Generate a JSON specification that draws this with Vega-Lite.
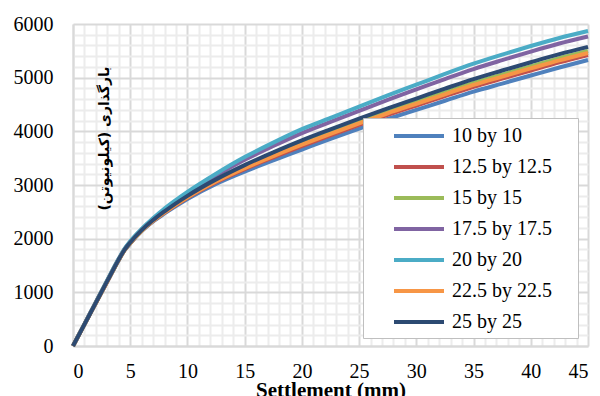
{
  "$schema": "https://vega.github.io/schema/vega-lite/v6.json",
  "width": 515,
  "height": 322,
  "autosize": {"type": "none"},
  "padding": {"left": 73, "top": 24, "right": 12, "bottom": 50},
  "background": "white",
  "config": {"view": {"stroke": null}},
  "datasets": {
    "curves": [
      {"x":0,"load":0,"series":"10 by 10"},{"x":1,"load":400,"series":"10 by 10"},{"x":2,"load":800,"series":"10 by 10"},{"x":3,"load":1200,"series":"10 by 10"},{"x":4,"load":1600,"series":"10 by 10"},{"x":4.5,"load":1780,"series":"10 by 10"},{"x":5,"load":1910,"series":"10 by 10"},{"x":6,"load":2140,"series":"10 by 10"},{"x":7,"load":2320,"series":"10 by 10"},{"x":8,"load":2470,"series":"10 by 10"},{"x":10,"load":2740,"series":"10 by 10"},{"x":12.5,"load":3020,"series":"10 by 10"},{"x":15,"load":3250,"series":"10 by 10"},{"x":17.5,"load":3460,"series":"10 by 10"},{"x":20,"load":3660,"series":"10 by 10"},{"x":22.5,"load":3860,"series":"10 by 10"},{"x":25,"load":4050,"series":"10 by 10"},{"x":27.5,"load":4230,"series":"10 by 10"},{"x":30,"load":4400,"series":"10 by 10"},{"x":32.5,"load":4570,"series":"10 by 10"},{"x":35,"load":4740,"series":"10 by 10"},{"x":37.5,"load":4890,"series":"10 by 10"},{"x":40,"load":5040,"series":"10 by 10"},{"x":42.5,"load":5190,"series":"10 by 10"},{"x":45,"load":5330,"series":"10 by 10"},

      {"x":0,"load":0,"series":"12.5 by 12.5"},{"x":1,"load":402,"series":"12.5 by 12.5"},{"x":2,"load":803,"series":"12.5 by 12.5"},{"x":3,"load":1205,"series":"12.5 by 12.5"},{"x":4,"load":1605,"series":"12.5 by 12.5"},{"x":4.5,"load":1785,"series":"12.5 by 12.5"},{"x":5,"load":1917,"series":"12.5 by 12.5"},{"x":6,"load":2147,"series":"12.5 by 12.5"},{"x":7,"load":2330,"series":"12.5 by 12.5"},{"x":8,"load":2485,"series":"12.5 by 12.5"},{"x":10,"load":2762,"series":"12.5 by 12.5"},{"x":12.5,"load":3052,"series":"12.5 by 12.5"},{"x":15,"load":3296,"series":"12.5 by 12.5"},{"x":17.5,"load":3516,"series":"12.5 by 12.5"},{"x":20,"load":3725,"series":"12.5 by 12.5"},{"x":22.5,"load":3926,"series":"12.5 by 12.5"},{"x":25,"load":4120,"series":"12.5 by 12.5"},{"x":27.5,"load":4305,"series":"12.5 by 12.5"},{"x":30,"load":4480,"series":"12.5 by 12.5"},{"x":32.5,"load":4655,"series":"12.5 by 12.5"},{"x":35,"load":4828,"series":"12.5 by 12.5"},{"x":37.5,"load":4982,"series":"12.5 by 12.5"},{"x":40,"load":5134,"series":"12.5 by 12.5"},{"x":42.5,"load":5284,"series":"12.5 by 12.5"},{"x":45,"load":5422,"series":"12.5 by 12.5"},

      {"x":0,"load":0,"series":"15 by 15"},{"x":1,"load":403,"series":"15 by 15"},{"x":2,"load":806,"series":"15 by 15"},{"x":3,"load":1209,"series":"15 by 15"},{"x":4,"load":1609,"series":"15 by 15"},{"x":4.5,"load":1789,"series":"15 by 15"},{"x":5,"load":1922,"series":"15 by 15"},{"x":6,"load":2152,"series":"15 by 15"},{"x":7,"load":2339,"series":"15 by 15"},{"x":8,"load":2498,"series":"15 by 15"},{"x":10,"load":2780,"series":"15 by 15"},{"x":12.5,"load":3079,"series":"15 by 15"},{"x":15,"load":3334,"series":"15 by 15"},{"x":17.5,"load":3562,"series":"15 by 15"},{"x":20,"load":3778,"series":"15 by 15"},{"x":22.5,"load":3981,"series":"15 by 15"},{"x":25,"load":4177,"series":"15 by 15"},{"x":27.5,"load":4366,"series":"15 by 15"},{"x":30,"load":4546,"series":"15 by 15"},{"x":32.5,"load":4725,"series":"15 by 15"},{"x":35,"load":4901,"series":"15 by 15"},{"x":37.5,"load":5057,"series":"15 by 15"},{"x":40,"load":5211,"series":"15 by 15"},{"x":42.5,"load":5361,"series":"15 by 15"},{"x":45,"load":5497,"series":"15 by 15"},

      {"x":0,"load":0,"series":"17.5 by 17.5"},{"x":1,"load":408,"series":"17.5 by 17.5"},{"x":2,"load":816,"series":"17.5 by 17.5"},{"x":3,"load":1224,"series":"17.5 by 17.5"},{"x":4,"load":1624,"series":"17.5 by 17.5"},{"x":4.5,"load":1804,"series":"17.5 by 17.5"},{"x":5,"load":1942,"series":"17.5 by 17.5"},{"x":6,"load":2172,"series":"17.5 by 17.5"},{"x":7,"load":2369,"series":"17.5 by 17.5"},{"x":8,"load":2543,"series":"17.5 by 17.5"},{"x":10,"load":2845,"series":"17.5 by 17.5"},{"x":12.5,"load":3174,"series":"17.5 by 17.5"},{"x":15,"load":3469,"series":"17.5 by 17.5"},{"x":17.5,"load":3727,"series":"17.5 by 17.5"},{"x":20,"load":3968,"series":"17.5 by 17.5"},{"x":22.5,"load":4176,"series":"17.5 by 17.5"},{"x":25,"load":4382,"series":"17.5 by 17.5"},{"x":27.5,"load":4586,"series":"17.5 by 17.5"},{"x":30,"load":4781,"series":"17.5 by 17.5"},{"x":32.5,"load":4975,"series":"17.5 by 17.5"},{"x":35,"load":5161,"series":"17.5 by 17.5"},{"x":37.5,"load":5327,"series":"17.5 by 17.5"},{"x":40,"load":5486,"series":"17.5 by 17.5"},{"x":42.5,"load":5636,"series":"17.5 by 17.5"},{"x":45,"load":5767,"series":"17.5 by 17.5"},

      {"x":0,"load":0,"series":"20 by 20"},{"x":1,"load":410,"series":"20 by 20"},{"x":2,"load":820,"series":"20 by 20"},{"x":3,"load":1230,"series":"20 by 20"},{"x":4,"load":1630,"series":"20 by 20"},{"x":4.5,"load":1810,"series":"20 by 20"},{"x":5,"load":1950,"series":"20 by 20"},{"x":6,"load":2180,"series":"20 by 20"},{"x":7,"load":2380,"series":"20 by 20"},{"x":8,"load":2560,"series":"20 by 20"},{"x":10,"load":2870,"series":"20 by 20"},{"x":12.5,"load":3210,"series":"20 by 20"},{"x":15,"load":3520,"series":"20 by 20"},{"x":17.5,"load":3790,"series":"20 by 20"},{"x":20,"load":4040,"series":"20 by 20"},{"x":22.5,"load":4250,"series":"20 by 20"},{"x":25,"load":4460,"series":"20 by 20"},{"x":27.5,"load":4670,"series":"20 by 20"},{"x":30,"load":4870,"series":"20 by 20"},{"x":32.5,"load":5070,"series":"20 by 20"},{"x":35,"load":5260,"series":"20 by 20"},{"x":37.5,"load":5430,"series":"20 by 20"},{"x":40,"load":5590,"series":"20 by 20"},{"x":42.5,"load":5740,"series":"20 by 20"},{"x":45,"load":5870,"series":"20 by 20"},

      {"x":0,"load":0,"series":"22.5 by 22.5"},{"x":1,"load":402,"series":"22.5 by 22.5"},{"x":2,"load":805,"series":"22.5 by 22.5"},{"x":3,"load":1207,"series":"22.5 by 22.5"},{"x":4,"load":1607,"series":"22.5 by 22.5"},{"x":4.5,"load":1787,"series":"22.5 by 22.5"},{"x":5,"load":1920,"series":"22.5 by 22.5"},{"x":6,"load":2150,"series":"22.5 by 22.5"},{"x":7,"load":2334,"series":"22.5 by 22.5"},{"x":8,"load":2492,"series":"22.5 by 22.5"},{"x":10,"load":2771,"series":"22.5 by 22.5"},{"x":12.5,"load":3066,"series":"22.5 by 22.5"},{"x":15,"load":3315,"series":"22.5 by 22.5"},{"x":17.5,"load":3539,"series":"22.5 by 22.5"},{"x":20,"load":3751,"series":"22.5 by 22.5"},{"x":22.5,"load":3954,"series":"22.5 by 22.5"},{"x":25,"load":4148,"series":"22.5 by 22.5"},{"x":27.5,"load":4336,"series":"22.5 by 22.5"},{"x":30,"load":4513,"series":"22.5 by 22.5"},{"x":32.5,"load":4690,"series":"22.5 by 22.5"},{"x":35,"load":4865,"series":"22.5 by 22.5"},{"x":37.5,"load":5020,"series":"22.5 by 22.5"},{"x":40,"load":5172,"series":"22.5 by 22.5"},{"x":42.5,"load":5322,"series":"22.5 by 22.5"},{"x":45,"load":5460,"series":"22.5 by 22.5"},

      {"x":0,"load":0,"series":"25 by 25"},{"x":1,"load":404,"series":"25 by 25"},{"x":2,"load":809,"series":"25 by 25"},{"x":3,"load":1213,"series":"25 by 25"},{"x":4,"load":1613,"series":"25 by 25"},{"x":4.5,"load":1793,"series":"25 by 25"},{"x":5,"load":1928,"series":"25 by 25"},{"x":6,"load":2158,"series":"25 by 25"},{"x":7,"load":2347,"series":"25 by 25"},{"x":8,"load":2510,"series":"25 by 25"},{"x":10,"load":2798,"series":"25 by 25"},{"x":12.5,"load":3105,"series":"25 by 25"},{"x":15,"load":3371,"series":"25 by 25"},{"x":17.5,"load":3608,"series":"25 by 25"},{"x":20,"load":3831,"series":"25 by 25"},{"x":22.5,"load":4036,"series":"25 by 25"},{"x":25,"load":4235,"series":"25 by 25"},{"x":27.5,"load":4428,"series":"25 by 25"},{"x":30,"load":4611,"series":"25 by 25"},{"x":32.5,"load":4795,"series":"25 by 25"},{"x":35,"load":4974,"series":"25 by 25"},{"x":37.5,"load":5133,"series":"25 by 25"},{"x":40,"load":5288,"series":"25 by 25"},{"x":42.5,"load":5438,"series":"25 by 25"},{"x":45,"load":5573,"series":"25 by 25"}
    ]
  },
  "data": {"name": "curves"},
  "layer": [
    {
      "mark": {"type": "line", "opacity": 0},
      "encoding": {
        "x": {
          "field": "x", "type": "quantitative",
          "scale": {"domain": [0, 45], "nice": false, "zero": false},
          "axis": {
            "orient": "top", "title": null, "labels": false, "ticks": false, "domain": false,
            "grid": true, "gridColor": "#ececec", "gridWidth": 2,
            "values": [1,2,3,4,6,7,8,9,11,12,13,14,16,17,18,19,21,22,23,24,26,27,28,29,31,32,33,34,36,37,38,39,41,42,43,44]
          }
        },
        "y": {
          "field": "load", "type": "quantitative",
          "scale": {"domain": [0, 6000], "nice": false},
          "axis": {
            "orient": "right", "title": null, "labels": false, "ticks": false, "domain": false,
            "grid": true, "gridColor": "#ececec", "gridWidth": 2,
            "values": [200,400,600,800,1200,1400,1600,1800,2200,2400,2600,2800,3200,3400,3600,3800,4200,4400,4600,4800,5200,5400,5600,5800]
          }
        },
        "detail": {"field": "series"}
      }
    },
    {
      "mark": {"type": "line", "interpolate": "monotone", "strokeWidth": 4},
      "encoding": {
        "x": {
          "field": "x", "type": "quantitative",
          "axis": {
            "orient": "bottom", "values": [0,5,10,15,20,25,30,35,40,45],
            "grid": true, "gridColor": "#d9d9d9", "gridWidth": 2,
            "domain": true, "domainColor": "#d9d9d9", "domainWidth": 2,
            "ticks": false, "labelPadding": 15,
            "labelFont": "Liberation Serif", "labelFontSize": 20, "labelColor": "#000000",
            "title": "Settlement (mm)", "titleFont": "Liberation Serif", "titleFontSize": 21,
            "titleFontWeight": "bold", "titleColor": "#000000",
            "titleBaseline": "alphabetic", "titleY": 50
          }
        },
        "y": {
          "field": "load", "type": "quantitative",
          "axis": {
            "orient": "left", "values": [0,1000,2000,3000,4000,5000,6000], "format": "d",
            "grid": true, "gridColor": "#d9d9d9", "gridWidth": 2,
            "domain": true, "domainColor": "#d9d9d9", "domainWidth": 2,
            "ticks": false, "labelPadding": 20,
            "labelFont": "Liberation Serif", "labelFontSize": 20, "labelColor": "#000000",
            "title": "بارگذاری (کیلونیوتن)", "titleFont": "DejaVu Sans", "titleFontSize": 14,
            "titleFontWeight": "bold", "titleColor": "#000000", "titleAngle": -90,
            "titleAlign": "center", "titleBaseline": "middle", "titleX": 31, "titleY": 114
          }
        },
        "color": {
          "field": "series", "type": "nominal",
          "scale": {
            "domain": ["10 by 10","12.5 by 12.5","15 by 15","17.5 by 17.5","20 by 20","22.5 by 22.5","25 by 25"],
            "range": ["#4F81BD","#C0504D","#9BBB59","#8064A2","#4BACC6","#F79646","#2C4A72"]
          },
          "legend": {
            "orient": "none", "legendX": 290, "legendY": 94,
            "title": " ", "titleOrient": "right", "titlePadding": 20, "titleFontSize": 4,
            "symbolType": "M-2.5,0H2.5", "symbolStrokeWidth": 4, "symbolSize": 400,
            "labelFont": "Liberation Serif", "labelFontSize": 20, "labelColor": "#000000",
            "labelOffset": 21, "rowPadding": 9, "padding": 6, "symbolOffset": 38,
            "strokeColor": "#bfbfbf", "fillColor": "#ffffff"
          }
        }
      }
    }
  ],
  "resolve": {"axis": {"x": "independent", "y": "independent"}}
}
